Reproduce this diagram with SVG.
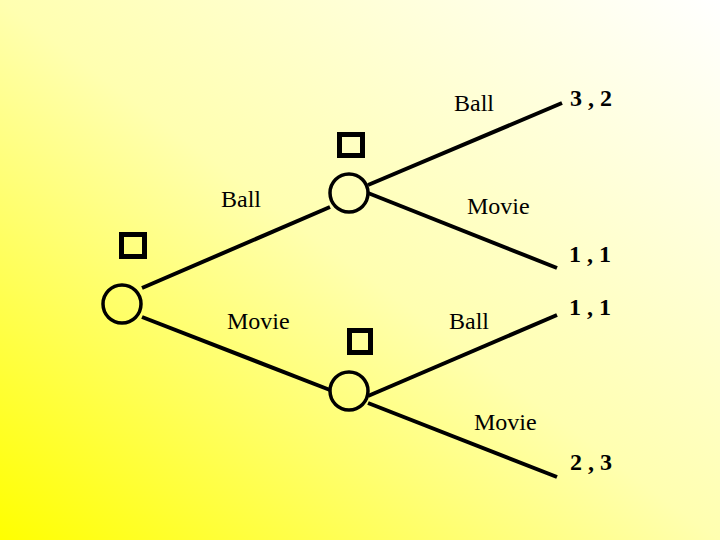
<svg xmlns="http://www.w3.org/2000/svg" width="720" height="540" viewBox="0 0 720 540">
<defs>
<linearGradient id="bg" x1="0" y1="1" x2="1" y2="0">
<stop offset="0" stop-color="#FFFF00"/>
<stop offset="0.5" stop-color="#FFFFB0"/>
<stop offset="1" stop-color="#FFFFFF"/>
</linearGradient>
<style>
.n{fill:none;stroke:#000;stroke-width:3.5}
.sq{fill:none;stroke:#000;stroke-width:5}
.e{stroke:#000;stroke-width:4;fill:none}
.t{font-family:"Liberation Serif","Times New Roman",serif;font-size:24px;fill:#000}
.p{font-family:"Liberation Serif","Times New Roman",serif;font-size:24px;font-weight:bold;fill:#000}
</style>
</defs>
<rect x="0" y="0" width="720" height="540" fill="url(#bg)"/>
<g id="connectors">
<line class="e" x1="142" y1="288" x2="330" y2="207"/>
<line class="e" x1="142" y1="317" x2="330" y2="390"/>
<line class="e" x1="368" y1="185" x2="562" y2="103"/>
<line class="e" x1="368" y1="193" x2="557" y2="268"/>
<line class="e" x1="368" y1="396" x2="557" y2="315"/>
<line class="e" x1="368" y1="403" x2="557" y2="477"/>
</g>
<g id="root">
<circle class="n" cx="122" cy="304" r="19"/>
<rect class="sq" x="121.5" y="234.5" width="23" height="22"/>
</g>
<g id="p2-upper">
<circle class="n" cx="349" cy="193" r="19"/>
<rect class="sq" x="339.5" y="134.5" width="23" height="21"/>
</g>
<g id="p2-lower">
<circle class="n" cx="349" cy="391" r="19"/>
<rect class="sq" x="349.5" y="330.5" width="21" height="22"/>
</g>
<g id="labels">
<text class="t" x="221" y="207">Ball</text>
<text class="t" x="227" y="329">Movie</text>
<text class="t" x="454" y="111">Ball</text>
<text class="t" x="467" y="214">Movie</text>
<text class="t" x="449" y="329">Ball</text>
<text class="t" x="474" y="430">Movie</text>
</g>
<g id="payoffs">
<text class="p" x="570" y="106">3 , 2</text>
<text class="p" x="569" y="262">1 , 1</text>
<text class="p" x="569" y="315">1 , 1</text>
<text class="p" x="570" y="470">2 , 3</text>
</g>
</svg>
